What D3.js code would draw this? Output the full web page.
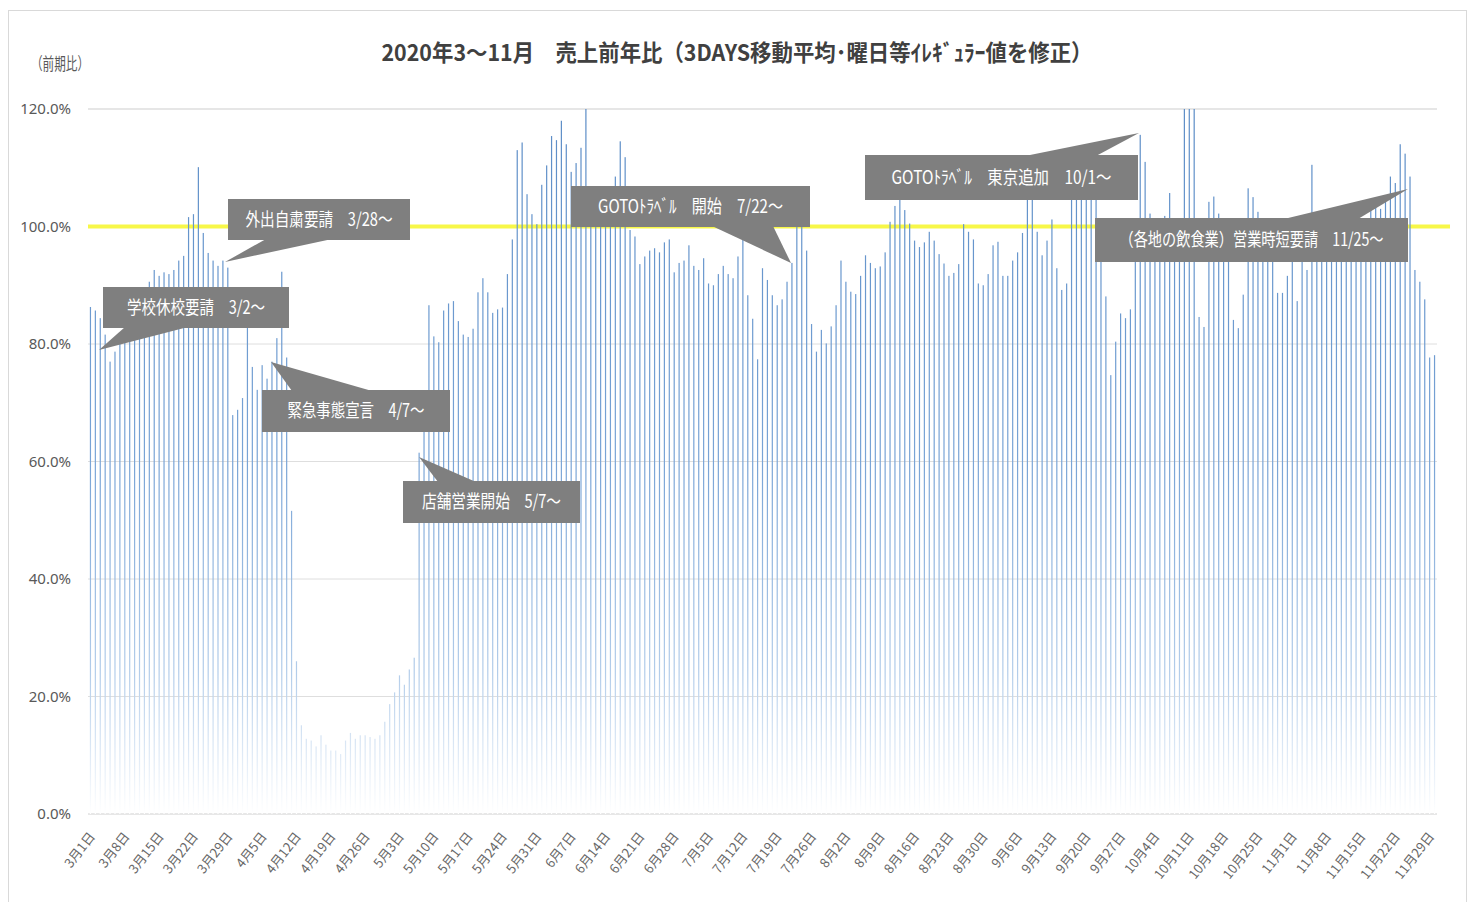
<!DOCTYPE html>
<html>
<head>
<meta charset="utf-8">
<script src="https://cdn.jsdelivr.net/npm/d3@7/dist/d3.min.js"></script>
<style>
  body { margin: 0; background: #fff; }
  text { font-family: "Noto Sans CJK JP", "Noto Sans", sans-serif; }
</style>
</head>
<body>
<svg id="chart"></svg>
<script>
// daily sales ratio vs previous year (%), 2020/3/1 .. 2020/11/30
const salesRatio = [
  86.3, 85.7, 84.4, 81.6, 77.0, 78.7, 80.0, 81.5, 83.0, 85.0, 87.0, 89.0, 90.6, 92.6, 91.6, 92.2, 91.9, 92.6, 94.2, 95.0,
  101.6, 102.1, 110.1, 98.9, 95.5, 94.2, 93.3, 94.2, 93.0, 67.9, 68.8, 70.8, 85.0, 76.1, 72.2, 76.4, 74.1, 77.0, 81.0, 92.3,
  77.7, 51.6, 26.0, 15.1, 12.8, 12.5, 11.5, 13.4, 11.8, 10.8, 10.8, 10.2, 12.5, 13.8, 12.8, 13.4, 13.4, 13.1, 12.8, 13.4,
  15.7, 18.7, 20.7, 23.6, 22.0, 24.6, 26.6, 61.5, 70.0, 86.6, 81.3, 80.3, 85.7, 86.9, 87.3, 83.9, 81.6, 81.2, 82.6, 88.8,
  91.2, 88.8, 85.3, 85.9, 86.2, 91.9, 97.8, 113.0, 114.3, 105.5, 102.1, 100.4, 107.1, 110.4, 115.4, 114.7, 118.0, 114.0, 109.3, 110.8,
  113.4, 120.5, 103.0, 102.0, 101.0, 104.0, 105.0, 108.5, 114.5, 111.8, 99.4, 98.3, 93.6, 94.9, 95.9, 96.3, 95.6, 97.3, 97.8, 92.2,
  93.8, 94.2, 96.8, 93.3, 92.6, 94.6, 90.3, 90.0, 91.9, 93.3, 91.9, 91.2, 94.9, 99.5, 88.3, 84.3, 77.4, 92.9, 90.9, 88.3,
  86.6, 87.6, 90.6, 93.8, 101.0, 101.5, 95.9, 83.4, 78.7, 82.4, 80.1, 83.0, 86.6, 94.2, 90.6, 88.9, 88.5, 91.6, 95.1, 93.8,
  92.9, 93.2, 95.6, 100.8, 103.5, 105.4, 102.8, 100.5, 97.6, 96.5, 97.3, 99.1, 97.6, 95.3, 93.7, 91.6, 92.1, 93.6, 100.4, 99.1,
  97.8, 90.3, 90.0, 91.9, 96.8, 97.4, 91.6, 91.6, 94.2, 95.6, 98.9, 104.6, 106.0, 99.1, 95.1, 97.6, 101.2, 92.9, 89.2, 90.3,
  107.0, 106.0, 106.5, 106.0, 105.0, 110.5, 96.0, 88.1, 74.7, 80.4, 85.2, 84.4, 85.9, 98.0, 115.6, 111.0, 102.2, 99.0, 98.0, 101.8,
  105.7, 97.0, 98.0, 121.0, 121.0, 121.0, 84.6, 82.9, 104.2, 105.1, 102.2, 97.0, 96.0, 84.1, 82.7, 88.4, 106.5, 105.0, 102.5, 99.0,
  97.0, 96.0, 88.7, 88.7, 91.6, 95.0, 87.3, 95.0, 92.6, 110.5, 99.0, 97.0, 100.0, 102.0, 103.0, 102.0, 101.0, 99.0, 98.0, 100.0,
  101.0, 103.0, 104.0, 103.0, 105.0, 108.5, 107.4, 114.0, 112.4, 108.5, 92.6, 90.6, 87.6, 77.7, 78.1
];

// weekly category labels (every 7th day from 3/1)
const tickLabels = [
  '3月1日', '3月8日', '3月15日', '3月22日', '3月29日', '4月5日', '4月12日', '4月19日', '4月26日', '5月3日',
  '5月10日', '5月17日', '5月24日', '5月31日', '6月7日', '6月14日', '6月21日', '6月28日', '7月5日', '7月12日',
  '7月19日', '7月26日', '8月2日', '8月9日', '8月16日', '8月23日', '8月30日', '9月6日', '9月13日', '9月20日',
  '9月27日', '10月4日', '10月11日', '10月18日', '10月25日', '11月1日', '11月8日', '11月15日', '11月22日', '11月29日'
];

const yTickValues = [0, 20, 40, 60, 80, 100, 120];
const referenceLevel = 100;

const titleText = '2020年3～11月　売上前年比（3DAYS移動平均･曜日等ｲﾚｷﾞｭﾗｰ値を修正）';
const yAxisTitle = '（前期比）';

const annotationTexts = [
  '学校休校要請　3/2～',
  '外出自粛要請　3/28～',
  '緊急事態宣言　4/7～',
  '店舗営業開始　5/7～',
  'GOTOﾄﾗﾍﾞﾙ　開始　7/22～',
  'GOTOﾄﾗﾍﾞﾙ　東京追加　10/1～',
  '（各地の飲食業）営業時短要請　11/25～'
];

// callout geometry: box [x, y, w, h], text width, pointer triangle
const annotationLayout = [
  { box: [103, 287, 186, 41], tw: 138, ptr: [[125, 327], [188, 327], [99, 350]] },
  { box: [228, 199, 182, 41], tw: 147, ptr: [[266, 239], [332, 239], [225, 262]] },
  { box: [262, 390, 188, 42], tw: 137, ptr: [[292, 391], [372, 391], [271, 362]] },
  { box: [403, 481, 177, 42], tw: 139, ptr: [[438, 482], [476, 482], [419, 457]] },
  { box: [571, 186, 239, 41], tw: 185, ptr: [[712, 226], [773, 226], [791, 263]] },
  { box: [865, 155, 273, 45], tw: 220, ptr: [[1025, 156], [1096, 156], [1139, 133]] },
  { box: [1095, 218, 313, 44], tw: 264, ptr: [[1284, 219], [1358, 219], [1408, 189]] }
];

const width = 1472, height = 902;
const plot = { left: 88, right: 1437, top: 109, bottom: 814 };

const svg = d3.select('#chart')
  .attr('width', width)
  .attr('height', height);

// outer frame
svg.append('rect')
  .attr('x', 8.5).attr('y', 10.5)
  .attr('width', 1458).attr('height', 896)
  .attr('fill', '#fff')
  .attr('stroke', '#d9d9d9');

const x = d3.scaleBand()
  .domain(d3.range(salesRatio.length))
  .range([plot.left, plot.right]);

const y = d3.scaleLinear()
  .domain([0, 120])
  .range([plot.bottom, plot.top])
  .clamp(true);

// gradient for the thin columns
const defs = svg.append('defs');
const grad = defs.append('linearGradient')
  .attr('id', 'barGrad')
  .attr('gradientUnits', 'userSpaceOnUse')
  .attr('x1', 0).attr('x2', 0)
  .attr('y1', y(120)).attr('y2', y(0));
[[0, '#5b8cc6'], [0.5, '#79a4d6'], [0.8, '#b3cdea'], [1, '#ffffff']].forEach(([o, c]) => {
  grad.append('stop').attr('offset', o).attr('stop-color', c);
});

// gridlines
svg.append('g')
  .selectAll('line')
  .data(yTickValues)
  .join('line')
  .attr('x1', plot.left).attr('x2', plot.right)
  .attr('y1', d => y(d)).attr('y2', d => y(d))
  .attr('stroke', d => d === 0 ? '#cfcfcf' : '#dedede')
  .attr('stroke-width', d => d === 120 ? 1.5 : 1);

// y axis labels
const yAxis = svg.append('g')
  .attr('transform', `translate(${plot.left - 14},0)`)
  .call(d3.axisLeft(y).tickValues(yTickValues).tickSize(0).tickFormat(d => d.toFixed(1) + '%'));
yAxis.select('.domain').remove();
yAxis.selectAll('text')
  .attr('fill', '#595959')
  .style('font-size', '15px')
  .style('font-family', '"Liberation Sans Narrow", "Noto Sans", sans-serif');

// 100% reference line
svg.append('line')
  .attr('x1', plot.left).attr('x2', 1450)
  .attr('y1', y(referenceLevel)).attr('y2', y(referenceLevel))
  .attr('stroke', '#f7f748')
  .attr('stroke-width', 4);

// bars
svg.append('g')
  .selectAll('rect')
  .data(salesRatio)
  .join('rect')
  .attr('x', (d, i) => x(i) + x.bandwidth() / 2 - 0.6)
  .attr('width', 1.2)
  .attr('y', d => y(d))
  .attr('height', d => y(0) - y(d))
  .attr('fill', 'url(#barGrad)');

// x axis labels
const xAxis = svg.append('g')
  .attr('transform', `translate(0,${plot.bottom})`)
  .call(d3.axisBottom(x)
    .tickValues(d3.range(0, salesRatio.length, 7))
    .tickSize(0)
    .tickFormat((d, i) => tickLabels[i]));
xAxis.select('.domain').remove();
xAxis.selectAll('text')
  .attr('fill', '#666')
  .style('font-size', '13px')
  .attr('text-anchor', 'end')
  .attr('dy', 0)
  .attr('transform', 'translate(3,21) rotate(-52)');

// title
svg.append('text')
  .attr('x', 737).attr('y', 61)
  .attr('text-anchor', 'middle')
  .attr('fill', '#404040')
  .style('font-size', '23px')
  .style('font-weight', 'bold')
  .attr('textLength', 711)
  .attr('lengthAdjust', 'spacingAndGlyphs')
  .text(titleText);

svg.append('text')
  .attr('x', 31).attr('y', 70)
  .attr('fill', '#595959')
  .style('font-size', '17px')
  .attr('textLength', 58)
  .attr('lengthAdjust', 'spacingAndGlyphs')
  .text(yAxisTitle);

// callouts
const callouts = svg.append('g')
  .selectAll('g')
  .data(annotationLayout)
  .join('g');

callouts.append('path')
  .attr('d', d => d3.line()(d.ptr) + 'Z')
  .attr('fill', '#7f7f7f');

callouts.append('rect')
  .attr('x', d => d.box[0]).attr('y', d => d.box[1])
  .attr('width', d => d.box[2]).attr('height', d => d.box[3])
  .attr('fill', '#7f7f7f');

callouts.append('text')
  .attr('x', d => d.box[0] + d.box[2] / 2)
  .attr('y', d => d.box[1] + d.box[3] / 2)
  .attr('dy', '0.36em')
  .attr('text-anchor', 'middle')
  .attr('fill', '#ffffff')
  .style('font-size', '18px')
  .attr('textLength', d => d.tw)
  .attr('lengthAdjust', 'spacingAndGlyphs')
  .text((d, i) => annotationTexts[i]);
</script>
</body>
</html>
